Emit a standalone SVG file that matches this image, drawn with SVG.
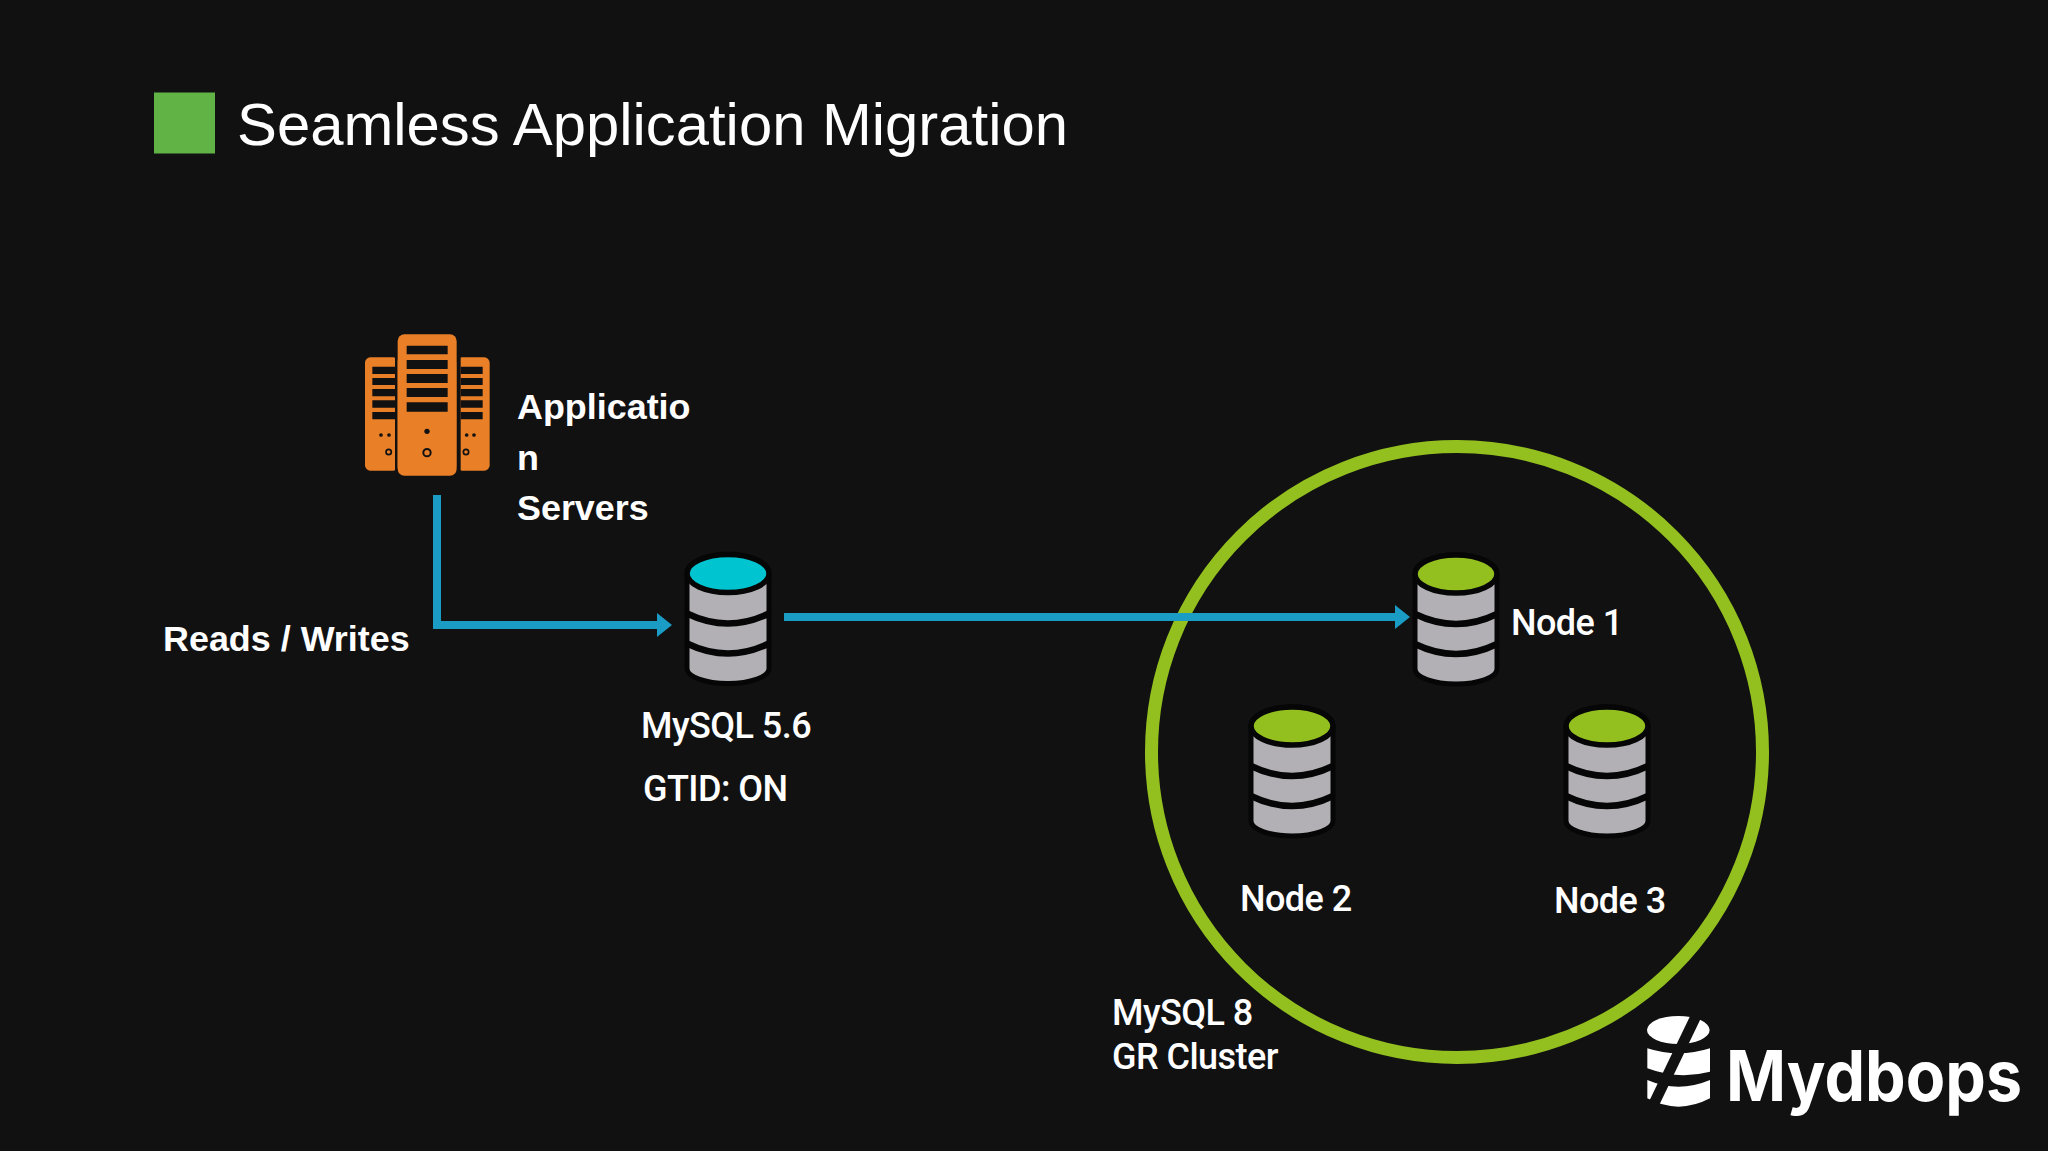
<svg xmlns="http://www.w3.org/2000/svg" width="2048" height="1151" viewBox="0 0 2048 1151">
<style>
.bg{fill:#111112}
.title{font:400 59.800px "Liberation Sans",Arial,sans-serif;fill:#fff}
.bold{font:700 35.900px "Liberation Sans",Arial,sans-serif;fill:#fff}
.lab{font:500 36px Roboto,"Liberation Sans",sans-serif;fill:#fff;letter-spacing:-.55px}
.slot{fill:#111112}
.srv{fill:#e97f27}
.conn{fill:none;stroke:#1a9cc4;stroke-width:8}
.body{fill:#b2b0b5;stroke:#060606;stroke-width:5}
.sep{fill:none;stroke:#060606;stroke-width:6.500}
.top{stroke:#060606;stroke-width:5.500}
.green{fill:#93c01f}
.cyan{fill:#00c4d0}
</style>
<defs>
<marker id="arrow" markerUnits="userSpaceOnUse" markerWidth="16" markerHeight="26" refX="0" refY="13" orient="auto"><path d="M0 1L15 13L0 25Z" fill="#1a9cc4"/></marker>
<g id="cyl">
<path class="body" d="M-41 0A41 19 0 0 1 41 0V95A41 15 0 0 1-41 95Z"/>
<path class="sep" d="M-41 40Q0 60 41 40M-41 70Q0 90 41 70"/>
</g>
</defs>
<rect class="bg" width="2048" height="1151"/>
<g id="title">
<rect x="154" y="92.500" width="61" height="61" fill="#61b345"/>
<text class="title" x="237" y="145">Seamless Application Migration</text>
</g>
<g id="cluster">
<circle cx="1457" cy="752" r="305.500" fill="none" stroke="#93c01f" stroke-width="13"/>
<text class="lab" x="1112" y="1025">MySQL 8</text>
<text class="lab" x="1112" y="1068.500">GR Cluster</text>
</g>
<g id="connectors">
<path class="conn" d="M437 495V625H657" marker-end="url(#arrow)"/>
<path class="conn" d="M784 617H1395" marker-end="url(#arrow)"/>
</g>
<g id="app-servers">
<g transform="translate(340 310) scale(.33333)">
<rect class="srv" x="75" y="142" width="100" height="340" rx="16"/>
<rect class="srv" x="350" y="142" width="99" height="340" rx="16"/>
<rect class="slot" x="165" y="130" width="8" height="360"/>
<rect class="slot" x="350" y="130" width="12" height="360"/>
<rect class="srv" x="173" y="73" width="177" height="424" rx="20"/>
<path class="slot" d="M200 107h123v26H200zM200 150h123v27H200zM200 192h123v27H200zM200 234h123v27H200zM200 277h123v28H200z"/>
<path class="slot" d="M97 170h68v22H97zM97 204h68v21H97zM97 237h68v22H97zM97 271h68v22H97zM97 306h68v22H97z"/>
<path class="slot" d="M362 170h66v22H362zM362 204h66v21H362zM362 237h66v22H362zM362 271h66v22H362zM362 306h66v22H362z"/>
<circle class="slot" cx="261" cy="364" r="8"/><circle cx="261" cy="428" r="11" fill="none" stroke="#111112" stroke-width="6"/>
<circle class="slot" cx="123" cy="375" r="5.500"/><circle class="slot" cx="147" cy="375" r="5.500"/><circle cx="146" cy="426" r="8" fill="none" stroke="#111112" stroke-width="5"/>
<circle class="slot" cx="380" cy="375" r="5.500"/><circle class="slot" cx="402" cy="375" r="5.500"/><circle cx="378" cy="426" r="8" fill="none" stroke="#111112" stroke-width="5"/>
</g>
<text class="bold" x="517" y="418.500">Applicatio</text>
<text class="bold" x="517" y="469.500">n</text>
<text class="bold" x="517" y="519.500">Servers</text>
</g>
<g id="reads-writes"><text class="bold" x="163" y="651">Reads / Writes</text></g>
<g id="mysql56">
<g transform="translate(728 573.500)"><use href="#cyl"/><ellipse class="top cyan" rx="41" ry="19"/></g>
<text class="lab" x="641" y="738">MySQL 5.6</text>
<text class="lab" x="643" y="800.500">GTID: ON</text>
</g>
<g id="node1">
<g transform="translate(1456 574)"><use href="#cyl"/><ellipse class="top green" rx="41" ry="19"/></g>
<text class="lab" x="1511" y="635">Node 1</text>
</g>
<g id="node2">
<g transform="translate(1292 726)"><use href="#cyl"/><ellipse class="top green" rx="41" ry="19"/></g>
<text class="lab" x="1240" y="911">Node 2</text>
</g>
<g id="node3">
<g transform="translate(1607 726)"><use href="#cyl"/><ellipse class="top green" rx="41" ry="19"/></g>
<text class="lab" x="1554" y="913">Node 3</text>
</g>
<g id="logo">
<g transform="translate(1620 990) scale(.33333)" fill="#fff">
<ellipse cx="175" cy="120" rx="94" ry="42"/>
<path d="M82 175Q175 205 270 175V245Q175 270 82 235Z"/>
<path d="M82 270Q175 310 270 270V325Q175 375 82 325Z"/>
<path d="M232 70L95 355" stroke="#111112" stroke-width="32" fill="none"/>
</g>
<text x="1726" y="1101" font-family="Inter,'Liberation Sans',sans-serif" font-weight="700" font-size="70" fill="#fff" textLength="296" lengthAdjust="spacingAndGlyphs">Mydbops</text>
</g>
</svg>
